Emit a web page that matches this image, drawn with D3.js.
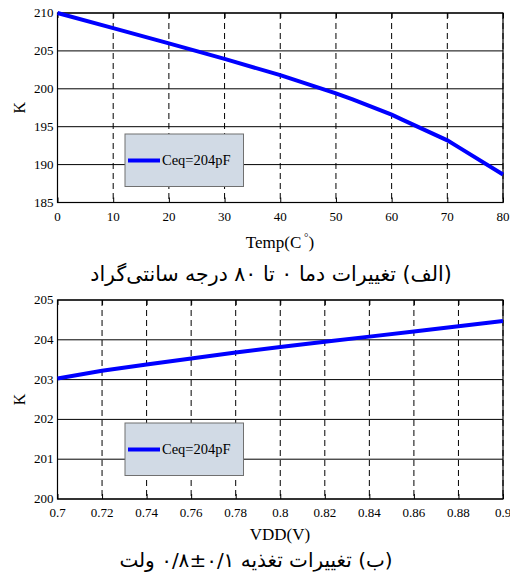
<!DOCTYPE html>
<html>
<head>
<meta charset="utf-8">
<script src="https://cdn.jsdelivr.net/npm/d3@7"></script>
<style>
  body { margin: 0; background: #fff; }
  text { font-family: "Liberation Serif", "DejaVu Serif", serif; fill: #000; }
  .fa { font-family: "DejaVu Sans", sans-serif; }
</style>
</head>
<body>
<div id="chart"></div>
<script>
// top panel: K vs temperature
var tempX = [0, 10, 20, 30, 40, 50, 53, 60, 62, 70, 72, 80];
var tempK = [210, 208.0, 206.0, 203.95, 201.8, 199.4, 198.6, 196.6, 195.9, 193.2, 192.3, 188.7];
var tempTicks = [0, 10, 20, 30, 40, 50, 60, 70, 80];
var tempKTicks = [185, 190, 195, 200, 205, 210];

// bottom panel: K vs supply voltage
var vddX = [0.7, 0.72, 0.74, 0.76, 0.78, 0.8, 0.82, 0.84, 0.86, 0.88, 0.9];
var vddK = [203.03, 203.22, 203.38, 203.53, 203.68, 203.82, 203.95, 204.08, 204.21, 204.34, 204.47];
var vddTicks = [0.7, 0.72, 0.74, 0.76, 0.78, 0.8, 0.82, 0.84, 0.86, 0.88, 0.9];
var vddKTicks = [200, 201, 202, 203, 204, 205];

var legendLabel = "Ceq=204pF";

var svgWidth = 510;
var svgHeight = 579;

var svg = d3.select("#chart")
  .append("svg")
  .attr("width", svgWidth)
  .attr("height", svgHeight);

// draws one framed panel
function drawPanel(opts) {
  var left = 57.5, right = 503;
  var x = d3.scaleLinear().domain(opts.xDomain).range([left, right]);
  var y = d3.scaleLinear().domain(opts.yDomain).range([opts.bottom, opts.top]);
  var g = svg.append("g");

  // horizontal solid grid
  g.selectAll(".hg")
    .data(opts.yTicks)
    .enter()
    .append("line")
    .attr("x1", left).attr("x2", right)
    .attr("y1", d => y(d)).attr("y2", d => y(d))
    .attr("stroke", "#000")
    .attr("stroke-width", 1);

  // vertical dashed grid
  g.selectAll(".vg")
    .data(opts.xTicks)
    .enter()
    .append("line")
    .attr("x1", d => x(d)).attr("x2", d => x(d))
    .attr("y1", opts.top).attr("y2", opts.bottom)
    .attr("stroke", "#000")
    .attr("stroke-width", 1)
    .attr("stroke-dasharray", "6,4");

  // inward ticks on bottom and top
  g.append("g")
    .attr("transform", `translate(0, ${opts.bottom})`)
    .call(d3.axisTop(x).tickValues(opts.xTicks).tickSize(5).tickFormat(""))
    .call(a => a.select(".domain").remove());
  g.append("g")
    .attr("transform", `translate(0, ${opts.top})`)
    .call(d3.axisBottom(x).tickValues(opts.xTicks).tickSize(5).tickFormat(""))
    .call(a => a.select(".domain").remove());

  // frame
  g.append("rect")
    .attr("x", left).attr("y", opts.top)
    .attr("width", right - left).attr("height", opts.bottom - opts.top)
    .attr("fill", "none")
    .attr("stroke", "#000")
    .attr("stroke-width", 1.2);

  // tick labels
  g.selectAll(".xl")
    .data(opts.xTicks)
    .enter()
    .append("text")
    .attr("x", d => x(d))
    .attr("y", opts.bottom + 18)
    .attr("text-anchor", "middle")
    .style("font-size", "13px")
    .text(d => opts.xFormat(d));

  g.selectAll(".yl")
    .data(opts.yTicks)
    .enter()
    .append("text")
    .attr("x", left - 4)
    .attr("y", d => y(d) + 4)
    .attr("text-anchor", "end")
    .style("font-size", "13px")
    .text(d => d);

  // legend box
  g.append("rect")
    .attr("x", 125).attr("y", opts.legendY)
    .attr("width", 118.5).attr("height", 52.5)
    .attr("fill", "#d1dae5")
    .attr("stroke", "#707070")
    .attr("stroke-width", 1);
  g.append("line")
    .attr("x1", 128).attr("x2", 160)
    .attr("y1", opts.legendY + 26.5).attr("y2", opts.legendY + 26.5)
    .attr("stroke", "#0000ff")
    .attr("stroke-width", 4);
  g.append("text")
    .attr("x", 162)
    .attr("y", opts.legendY + 31)
    .style("font-size", "14.5px")
    .text(legendLabel);

  // data line
  var line = d3.line()
    .x(d => x(d[0]))
    .y(d => y(d[1]));
  g.append("path")
    .datum(opts.xs.map((v, i) => [v, opts.ys[i]]))
    .attr("d", line)
    .attr("fill", "none")
    .attr("stroke", "#0000ff")
    .attr("stroke-width", 4);

  // y axis label
  g.append("text")
    .attr("transform", `translate(25, ${(opts.top + opts.bottom) / 2}) rotate(-90)`)
    .attr("text-anchor", "middle")
    .style("font-size", "16px")
    .text("K");

  return { x: x, y: y, g: g };
}

var top1 = drawPanel({
  top: 13, bottom: 202.5,
  xDomain: [0, 80], yDomain: [185, 210],
  xTicks: tempTicks, yTicks: tempKTicks,
  xFormat: d => d,
  xs: tempX, ys: tempK,
  legendY: 134
});

var bot1 = drawPanel({
  top: 300, bottom: 499,
  xDomain: [0.7, 0.9], yDomain: [200, 205],
  xTicks: vddTicks, yTicks: vddKTicks,
  xFormat: d => d3.format("")(+d.toFixed(2)),
  xs: vddX, ys: vddK,
  legendY: 423
});

// x axis labels
var tLabel = svg.append("text")
  .attr("x", 280)
  .attr("y", 248)
  .attr("text-anchor", "middle")
  .style("font-size", "17px");
tLabel.append("tspan").text("Temp(C");
tLabel.append("tspan").attr("dy", -7).style("font-size", "11px").text(" °");
tLabel.append("tspan").attr("dy", 7).text(")");

svg.append("text")
  .attr("x", 280)
  .attr("y", 540)
  .attr("text-anchor", "middle")
  .style("font-size", "17px")
  .text("VDD(V)");

// Persian captions
svg.append("text")
  .attr("class", "fa")
  .attr("x", 271)
  .attr("y", 281)
  .attr("text-anchor", "middle")
  .attr("direction", "rtl")
  .style("font-size", "20.5px")
  .text("(الف) تغییرات دما ۰ تا ۸۰ درجه سانتی‌گراد");

svg.append("text")
  .attr("class", "fa")
  .attr("x", 256)
  .attr("y", 567)
  .attr("text-anchor", "middle")
  .attr("direction", "rtl")
  .style("font-size", "20px")
  .text("(ب) تغییرات تغذیه ۰/۱±۰/۸ ولت");
</script>
</body>
</html>
